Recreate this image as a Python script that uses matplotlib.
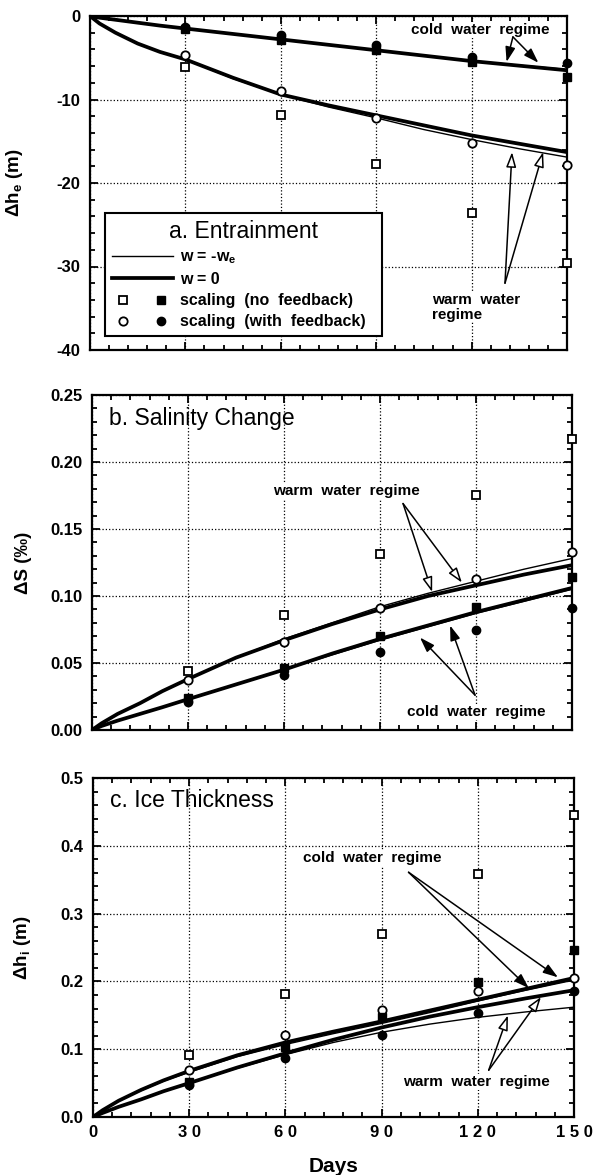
import matplotlib
matplotlib.use('Agg')
import matplotlib.pyplot as plt
from matplotlib.lines import Line2D
from matplotlib.legend_handler import HandlerTuple
from matplotlib.ticker import MultipleLocator, FormatStrFormatter

plt.rcParams['font.family'] = ['Liberation Sans', 'DejaVu Sans']
plt.rcParams['font.weight'] = 'bold'
plt.rcParams['axes.labelweight'] = 'bold'
plt.rcParams['axes.unicode_minus'] = False
plt.rcParams['mathtext.fontset'] = 'custom'
plt.rcParams['mathtext.rm'] = 'Liberation Sans:bold'
plt.rcParams['mathtext.it'] = 'Liberation Sans:bold'
plt.rcParams['mathtext.bf'] = 'Liberation Sans:bold'

curve_days = [0, 3, 8, 15, 22, 30, 45, 60, 75, 90, 105, 120, 135, 150]
# days of the scaling estimates
scale_days = [30, 60, 90, 120, 150]

x_ticks = [0, 30, 60, 90, 120, 150]
x_tick_labels = ['0', '3 0', '6 0', '9 0', '1 2 0', '1 5 0']

# ---- a. entrainment (m)
he_cold_w0 = [0, -0.2, -0.45, -0.8, -1.15, -1.5, -2.15, -2.8, -3.45, -4.1, -4.75, -5.4, -5.95, -6.5]
he_cold_we = [0, -0.2, -0.45, -0.8, -1.15, -1.5, -2.15, -2.8, -3.45, -4.1, -4.75, -5.35, -5.9, -6.4]
he_warm_w0 = [0, -0.9, -2.0, -3.3, -4.3, -5.2, -7.4, -9.4, -10.7, -11.9, -13.1, -14.3, -15.3, -16.3]
he_warm_we = [0, -0.9, -2.0, -3.3, -4.3, -5.2, -7.5, -9.4, -10.9, -12.2, -13.6, -14.8, -15.9, -16.9]
he_sq_open = [-6.1, -11.9, -17.7, -23.6, -29.6]
he_ci_open = [-4.7, -9.0, -12.2, -15.2, -17.8]
he_sq_fill = [-1.6, -2.9, -4.1, -5.5, -7.3]
he_ci_fill = [-1.3, -2.3, -3.5, -4.9, -5.6]

# ---- b. salinity change (per mil)
ds_warm_w0 = [0, 0.005, 0.012, 0.02, 0.029, 0.038, 0.054, 0.067, 0.079, 0.09, 0.1, 0.108, 0.116, 0.123]
ds_warm_we = [0, 0.005, 0.012, 0.02, 0.029, 0.038, 0.054, 0.068, 0.08, 0.092, 0.102, 0.111, 0.12, 0.128]
ds_cold_w0 = [0, 0.003, 0.007, 0.012, 0.017, 0.023, 0.034, 0.045, 0.057, 0.068, 0.078, 0.088, 0.097, 0.106]
ds_cold_we = [0, 0.003, 0.007, 0.012, 0.017, 0.023, 0.034, 0.045, 0.056, 0.067, 0.077, 0.087, 0.096, 0.105]
ds_sq_open = [0.044, 0.086, 0.131, 0.175, 0.217]
ds_ci_open = [0.037, 0.066, 0.091, 0.113, 0.133]
ds_sq_fill = [0.024, 0.046, 0.070, 0.092, 0.114]
ds_ci_fill = [0.021, 0.041, 0.058, 0.075, 0.091]

# ---- c. ice thickness (m)
hi_cold_w0 = [0, 0.01, 0.024, 0.04, 0.054, 0.068, 0.091, 0.11, 0.126, 0.141, 0.157, 0.173, 0.189, 0.205]
hi_cold_we = [0, 0.01, 0.024, 0.039, 0.053, 0.066, 0.089, 0.107, 0.123, 0.138, 0.154, 0.171, 0.187, 0.202]
hi_warm_w0 = [0, 0.006, 0.015, 0.026, 0.038, 0.05, 0.073, 0.094, 0.114, 0.132, 0.148, 0.162, 0.175, 0.187]
hi_warm_we = [0, 0.006, 0.015, 0.026, 0.038, 0.05, 0.072, 0.092, 0.11, 0.125, 0.137, 0.147, 0.155, 0.162]
hi_sq_open = [0.091, 0.181, 0.270, 0.358, 0.445]
hi_ci_open = [0.069, 0.121, 0.158, 0.186, 0.205]
hi_sq_fill = [0.052, 0.103, 0.148, 0.199, 0.246]
hi_ci_fill = [0.047, 0.087, 0.121, 0.153, 0.186]

THICK = 2.7
THIN = 1.0
NOTE_SIZE = 11
TITLE_SIZE = 16.5


def style_axes(ax, ylim, ymajor, yminor, yfmt=None):
    ax.set_xlim(0, 150)
    ax.set_ylim(ylim)
    ax.set_xticks(x_ticks)
    ax.set_xticklabels(x_tick_labels)
    ax.xaxis.set_minor_locator(MultipleLocator(6))
    ax.yaxis.set_major_locator(MultipleLocator(ymajor))
    ax.yaxis.set_minor_locator(MultipleLocator(yminor))
    if yfmt is not None:
        ax.yaxis.set_major_formatter(FormatStrFormatter(yfmt))
    ax.tick_params(which='both', direction='in', top=True, right=True, width=1.3, labelsize=12)
    ax.tick_params(which='major', length=6, pad=7)
    ax.tick_params(which='minor', length=3.5)
    ax.grid(True, which='major', ls=':', color='k', lw=0.9)
    for s in ax.spines.values():
        s.set_linewidth(1.6)


def draw_panel(ax, lines_w0, lines_we, sq_open, ci_open, sq_fill, ci_fill):
    for y in lines_we:
        ax.plot(curve_days, y, color='k', lw=THIN, zorder=3)
    for y in lines_w0:
        ax.plot(curve_days, y, color='k', lw=THICK, zorder=3)
    ax.plot(scale_days, sq_open, ls='none', marker='s', ms=6.2, mfc='white', mec='k', mew=1.3, zorder=5, clip_on=False)
    ax.plot(scale_days, ci_open, ls='none', marker='o', ms=6, mfc='white', mec='k', mew=1.3, zorder=5, clip_on=False)
    ax.plot(scale_days, sq_fill, ls='none', marker='s', ms=6.2, mfc='k', mec='k', zorder=5, clip_on=False)
    ax.plot(scale_days, ci_fill, ls='none', marker='o', ms=6, mfc='k', mec='k', zorder=5, clip_on=False)


def regime_note(ax, text, xy, start, tips, filled, ha='center'):
    ax.text(xy[0], xy[1], text, ha=ha, va='center', fontsize=NOTE_SIZE, fontweight='bold',
            linespacing=1.05, zorder=6,
            bbox=dict(fc='white', ec='none', pad=0.5))
    fc = 'k' if filled else 'white'
    for tip in tips:
        ax.annotate('', xy=tip, xytext=start, zorder=7,
                    arrowprops=dict(arrowstyle='-|>,head_length=0.9,head_width=0.3',
                                    fc=fc, ec='k', lw=1.1, shrinkA=0, shrinkB=0))


fig = plt.figure(figsize=(5.95, 11.75), dpi=100)
ax_a = fig.add_axes([90 / 595, 1 - 350 / 1175, 477 / 595, 334 / 1175])
ax_b = fig.add_axes([92 / 595, 1 - 730 / 1175, 480 / 595, 335 / 1175])
ax_c = fig.add_axes([93 / 595, 1 - 1117 / 1175, 481 / 595, 339 / 1175])

# a. Entrainment
style_axes(ax_a, (-40, 0), 10, 2)
draw_panel(ax_a, [he_cold_w0, he_warm_w0], [he_cold_we, he_warm_we],
           he_sq_open, he_ci_open, he_sq_fill, he_ci_fill)
ax_a.tick_params(labelbottom=False)
ax_a.set_ylabel('Δh$_e$ (m)', fontsize=13.5)
ax_a.yaxis.set_label_coords(-0.136, 0.5)
regime_note(ax_a, 'cold  water  regime', (122.6, -1.7), (133, -2.5), [(131, -5.5), (141, -5.6)], True)
regime_note(ax_a, 'warm  water\nregime', (107.5, -34.9), (130.5, -32.0), [(132.7, -16.3), (142.5, -16.3)], False, ha='left')

handles = [Line2D([], [], color='k', lw=THIN),
           Line2D([], [], color='k', lw=THICK),
           (Line2D([], [], ls='none', marker='s', ms=6.2, mfc='white', mec='k', mew=1.3),
            Line2D([], [], ls='none', marker='s', ms=6.2, mfc='k', mec='k')),
           (Line2D([], [], ls='none', marker='o', ms=6, mfc='white', mec='k', mew=1.3),
            Line2D([], [], ls='none', marker='o', ms=6, mfc='k', mec='k'))]
labels = ['w = -w$_e$', 'w = 0', 'scaling  (no  feedback)', 'scaling  (with  feedback)  ']
leg = ax_a.legend(handles, labels, handler_map={tuple: HandlerTuple(ndivide=None, pad=1.0)},
                  loc='upper left', bbox_to_anchor=(0.031, 0.41), title='a. Entrainment',
                  prop={'size': 11.5, 'weight': 'bold'},
                  title_fontproperties={'size': TITLE_SIZE, 'weight': 'normal'},
                  fancybox=False, framealpha=1, edgecolor='k', handlelength=3.8,
                  labelspacing=0.38, borderpad=0.45, handletextpad=0.45, borderaxespad=0)
leg.get_frame().set_linewidth(1.5)
leg.set_zorder(8)

# b. Salinity Change
style_axes(ax_b, (0, 0.25), 0.05, 0.01, '%.2f')
draw_panel(ax_b, [ds_cold_w0, ds_warm_w0], [ds_cold_we, ds_warm_we],
           ds_sq_open, ds_ci_open, ds_sq_fill, ds_ci_fill)
ax_b.tick_params(labelbottom=False)
ax_b.set_ylabel('ΔS (‰)', fontsize=13.5)
ax_b.yaxis.set_label_coords(-0.125, 0.5)
ax_b.text(0.035, 0.93, 'b. Salinity Change', transform=ax_b.transAxes, fontsize=TITLE_SIZE,
          fontweight='normal', va='center', ha='left')
regime_note(ax_b, 'warm  water  regime', (79.4, 0.178), (97.2, 0.169), [(106.3, 0.103), (115.6, 0.110)], False)
regime_note(ax_b, 'cold  water  regime', (120, 0.0134), (119.7, 0.026), [(102.5, 0.069), (111.9, 0.078)], True)

# c. Ice Thickness
style_axes(ax_c, (0, 0.5), 0.1, 0.02, '%.1f')
draw_panel(ax_c, [hi_cold_w0, hi_warm_w0], [hi_cold_we, hi_warm_we],
           hi_sq_open, hi_ci_open, hi_sq_fill, hi_ci_fill)
ax_c.set_ylabel('Δh$_i$ (m)', fontsize=13.5)
ax_c.yaxis.set_label_coords(-0.125, 0.5)
ax_c.set_xlabel('Days', fontsize=15, labelpad=12)
ax_c.tick_params(axis='x', which='major', pad=6)
ax_c.text(0.035, 0.935, 'c. Ice Thickness', transform=ax_c.transAxes, fontsize=TITLE_SIZE,
          fontweight='normal', va='center', ha='left')
regime_note(ax_c, 'cold  water  regime', (87.2, 0.382), (98.4, 0.361), [(135.9, 0.19), (145, 0.206)], True)
regime_note(ax_c, 'warm  water  regime', (119.7, 0.052), (123.4, 0.069), [(129.4, 0.150), (139.7, 0.177)], False)

fig.savefig('out.png', dpi=100)
